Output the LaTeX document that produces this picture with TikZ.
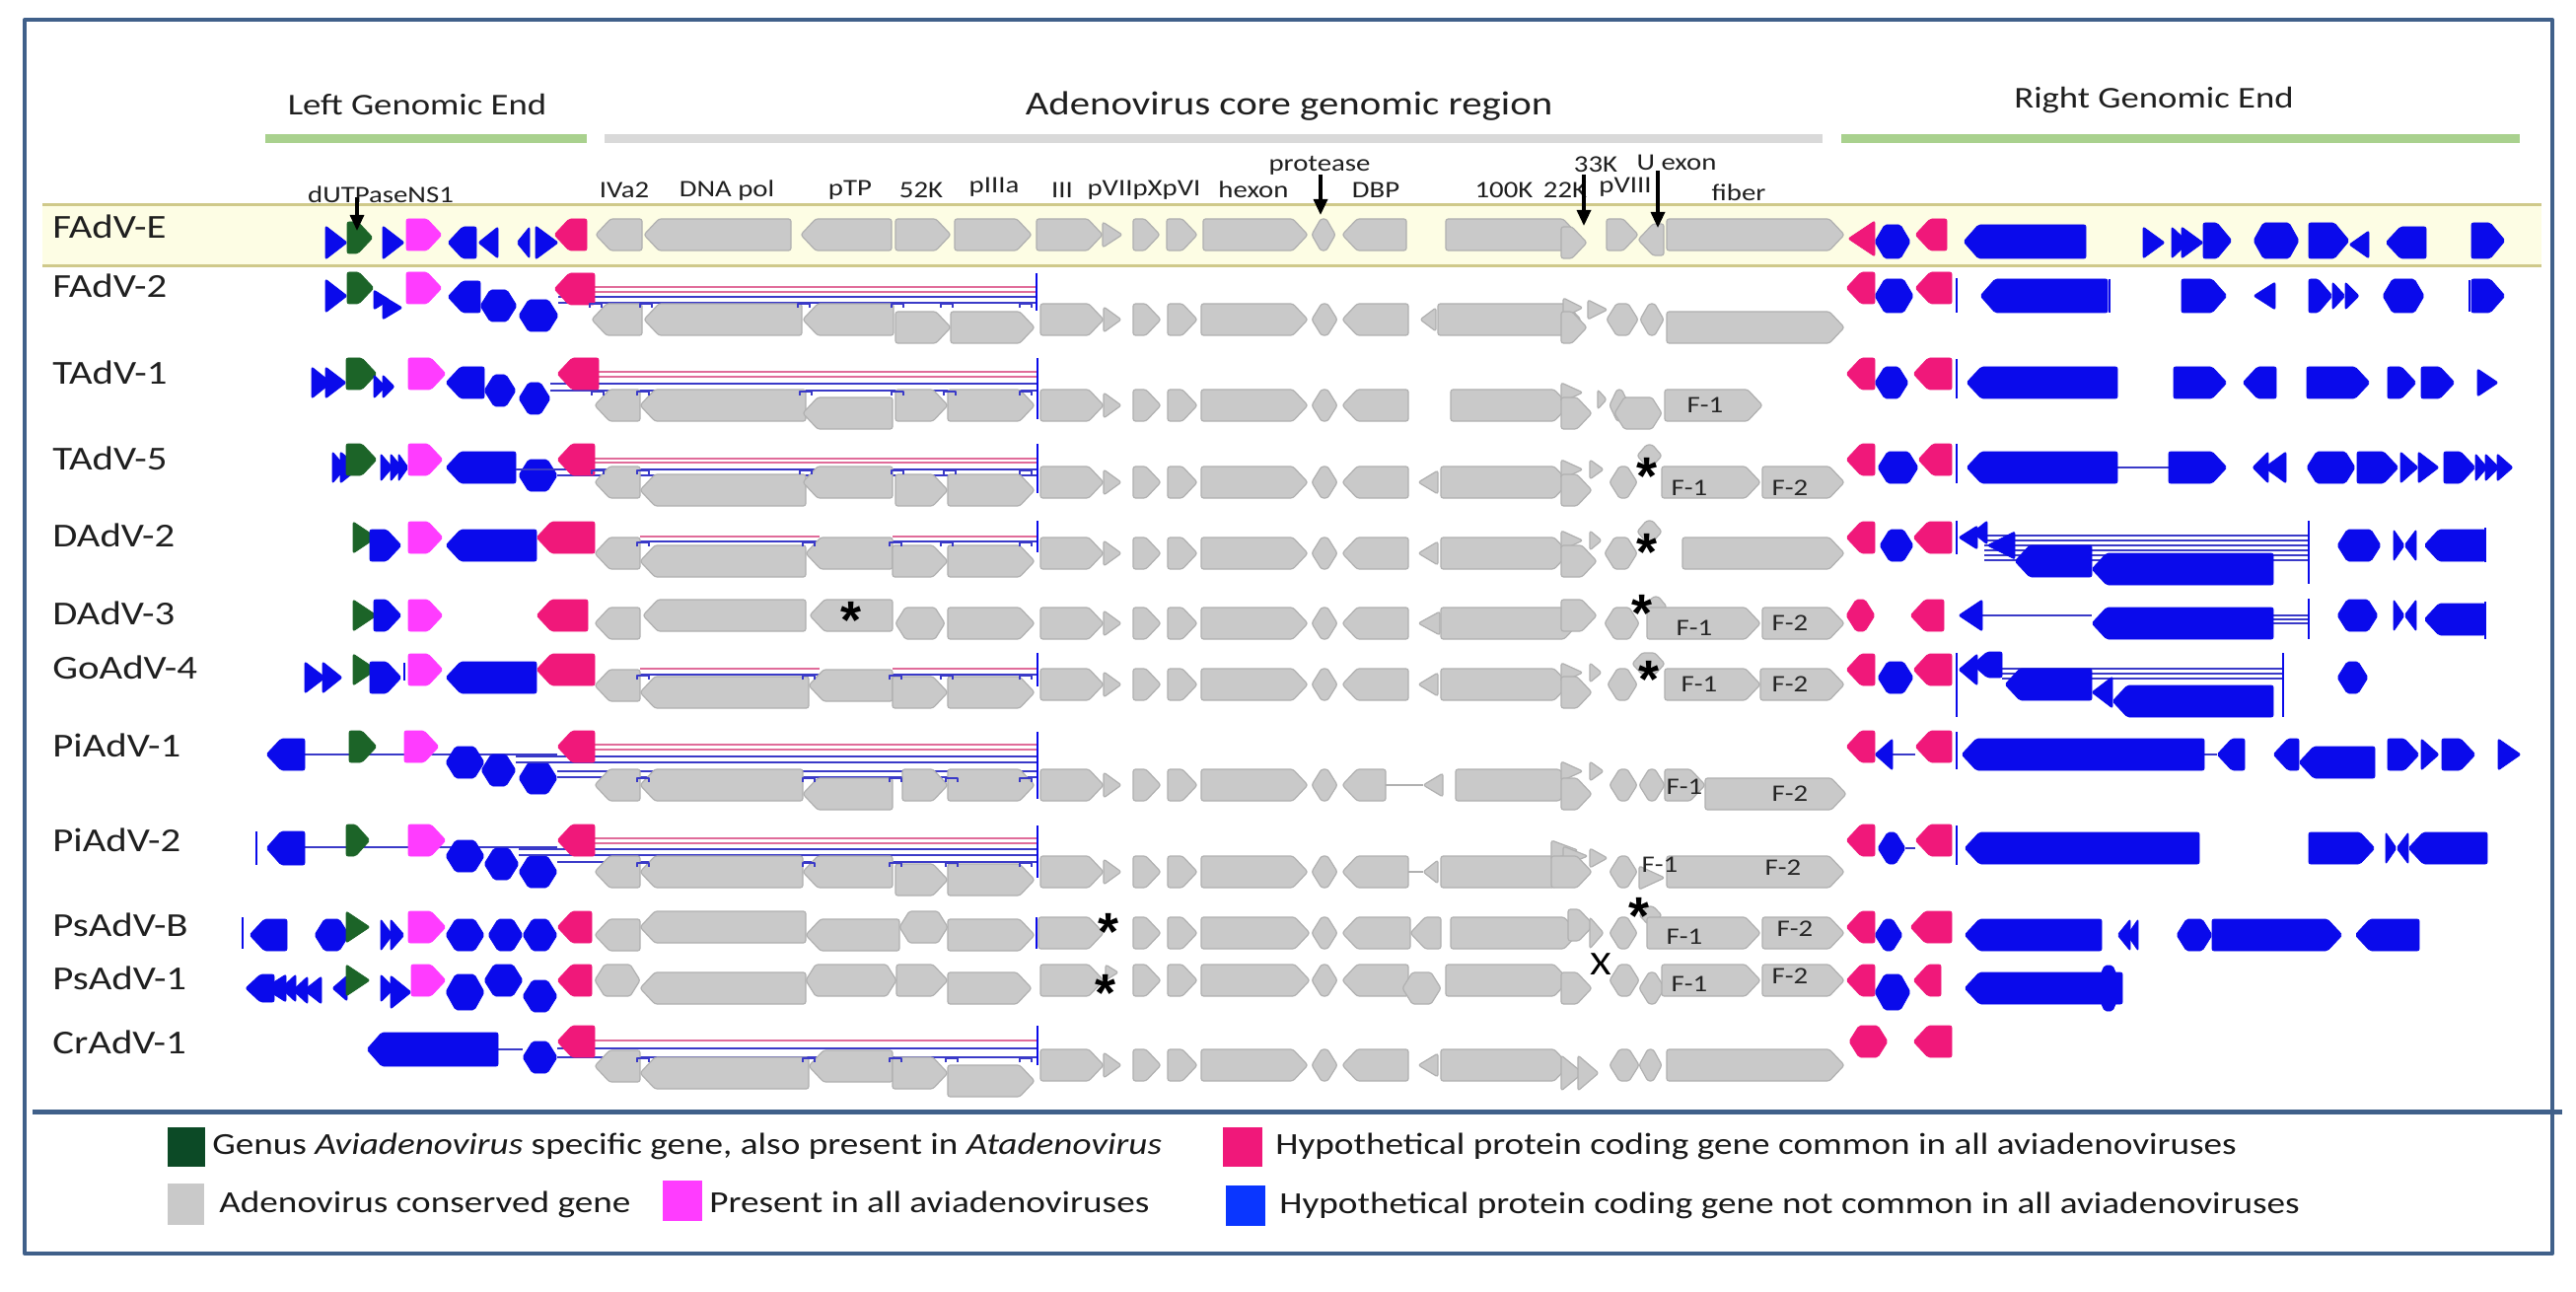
\documentclass[tikz,border=0pt]{standalone}
\usepackage{fontspec}
\setmainfont{Carlito}[FakeStretch=1.2]
\newfontfamily\astfont{Liberation Sans}
\usetikzlibrary{arrows.meta}
\definecolor{gfill}{HTML}{C9C9C9}
\definecolor{gline}{HTML}{B0B0B0}
\definecolor{bluec}{HTML}{0A0AEB}
\definecolor{pinkc}{HTML}{F0187A}
\definecolor{magc}{HTML}{FF3CFF}
\definecolor{greenc}{HTML}{1C6428}
\definecolor{legg}{HTML}{0C4A26}
\definecolor{legb}{HTML}{0A36FF}
\definecolor{framec}{HTML}{40608A}
\definecolor{bandc}{HTML}{FDFDE4}
\definecolor{bandl}{HTML}{CFC98A}
\definecolor{hgreen}{HTML}{A9D18E}
\definecolor{hgray}{HTML}{D9D9D9}
\definecolor{pline}{HTML}{E06C9A}
\definecolor{bline}{HTML}{3A3AC8}
\newcommand\GeneR[5][16]{\pgfmathsetmacro\gtip{min(15,0.6*(#3-#2))}\path[#5] (#2,#4-#1) -- (#3-\gtip,#4-#1) -- (#3,#4) -- (#3-\gtip,#4+#1) -- (#2,#4+#1) -- cycle;}
\newcommand\GeneL[5][16]{\pgfmathsetmacro\gtip{min(15,0.6*(#3-#2))}\path[#5] (#3,#4-#1) -- (#2+\gtip,#4-#1) -- (#2,#4) -- (#2+\gtip,#4+#1) -- (#3,#4+#1) -- cycle;}
\newcommand\GeneH[5][16]{\pgfmathsetmacro\gtip{min(10,0.38*(#3-#2))}\path[#5] (#2+\gtip,#4-#1) -- (#3-\gtip,#4-#1) -- (#3,#4) -- (#3-\gtip,#4+#1) -- (#2+\gtip,#4+#1) -- (#2,#4) -- cycle;}
\newcommand\TriR[5][16]{\path[#5] (#2,#4-#1) -- (#3,#4) -- (#2,#4+#1) -- cycle;}
\newcommand\TriL[5][16]{\path[#5] (#3,#4-#1) -- (#2,#4) -- (#3,#4+#1) -- cycle;}
\newcommand\Mark[2]{\draw[bline,line width=0.8pt] (#1-6,#2+4) -- (#1-6,#2) -- (#1+6,#2) -- (#1+6,#2+4);}
\newcommand\Tick[3]{\draw[bluec,line width=1.2pt] (#1,#2) -- (#1,#3);}
\newcommand\Star[3]{\node[astn] (#1) at (#2,#3+26) {*};}
\newcommand\CoreA[1]{\GeneR{1055}{1119}{#1}{gG}\TriR[13]{1119}{1137}{#1}{gG}\GeneR{1149}{1177}{#1}{gG}\GeneR{1184}{1214}{#1}{gG}\GeneR{1218}{1326}{#1}{gG}\GeneH{1330}{1356}{#1}{gG}\GeneL{1361}{1428}{#1}{gG}}
\begin{document}
\begin{tikzpicture}[x=0.5pt,y=-0.5pt,line join=round,
 gG/.style={fill=gfill,draw=gline,line width=0.6pt,rounded corners=1.2pt},
 gB/.style={fill=bluec,draw=bluec,line width=0.4pt,rounded corners=1pt},
 gP/.style={fill=pinkc,draw=pinkc,line width=0.4pt,rounded corners=1pt},
 gM/.style={fill=magc,draw=magc,line width=0.4pt,rounded corners=1pt},
 gD/.style={fill=greenc,draw=greenc,line width=0.4pt,rounded corners=1pt},
 pl/.style={draw=pline,line width=0.9pt},
 bln/.style={draw=bline,line width=0.9pt},
 rowlab/.style={anchor=west,inner sep=0,text=black!88,font=\fontsize{17}{20}\selectfont},
 glab/.style={inner sep=0,text=black!88,font=\fontsize{12}{14}\selectfont},
 flab/.style={inner sep=0,text=black!85,font=\fontsize{12}{14}\selectfont},
 hd/.style={inner sep=0,text=black!88,font=\fontsize{15.3}{18}\selectfont},
 leg/.style={anchor=west,inner sep=0,text=black!90,font=\fontsize{15.5}{18}\selectfont},
 astn/.style={anchor=base,inner sep=0,font=\astfont\bfseries\fontsize{27}{27}\selectfont},
 arr/.style={-{Triangle[length=8pt,width=7pt]},line width=1.6pt,black}]
\useasboundingbox (0,0) rectangle (2612,1310);
\fill[white] (0,0) rectangle (2612,1310);
% frame
\draw[framec,line width=2pt] (25,20) rectangle (2588,1271);
\draw[framec,line width=2.5pt] (33,1127) -- (2598,1127);
% band
\fill[bandc] (43,208) rectangle (2577,270);
\draw[bandl,line width=1.5pt] (43,208) -- (2577,208) (43,270) -- (2577,270);
% headings
\node[hd] (hL) at (423,106) {Left Genomic End};
\node[hd,font=\fontsize{17}{20}\selectfont] (hC) at (1307,108) {Adenovirus core genomic region};
\node[hd] (hR) at (2184,102) {Right Genomic End};
\draw[hgreen,line width=4.5pt] (269,141) -- (595,141);
\draw[hgray,line width=4.5pt] (613,141) -- (1848,141);
\draw[hgreen,line width=4.5pt] (1867,141) -- (2555,141);
% gene labels
\node[glab] (tD) at (386,197) {dUTPaseNS1};
\node[glab] (t1) at (633,193) {IVa2};
\node[glab] (t2) at (737,193) {DNA pol};
\node[glab] (t3) at (862,193) {pTP};
\node[glab] (t4) at (934,193) {52K};
\node[glab] (t5) at (1008,190) {pIIIa};
\node[glab] (t6) at (1077,193) {III};
\node[glab] (t7) at (1160,193) {pVIIpXpVI};
\node[glab] (t8) at (1271,192) {hexon};
\node[glab] (t9) at (1338,168) {protease};
\node[glab] (t10) at (1395,193) {DBP};
\node[glab] (t11) at (1525,193) {100K};
\node[glab] (t12) at (1587,193) {22K};
\node[glab] (t13) at (1618,167) {33K};
\node[glab] (t14) at (1648,190) {pVIII};
\node[glab] (t15) at (1700,165) {U exon};
\node[glab] (t16) at (1763,195) {fiber};
% row labels
\node[rowlab] (r1) at (53,230) {FAdV-E};
\node[rowlab] (r2) at (53,290) {FAdV-2};
\node[rowlab] (r3) at (53,378) {TAdV-1};
\node[rowlab] (r4) at (53,465) {TAdV-5};
\node[rowlab] (r5) at (53,543) {DAdV-2};
\node[rowlab] (r6) at (53,622) {DAdV-3};
\node[rowlab] (r7) at (53,677) {GoAdV-4};
\node[rowlab] (r8) at (53,756) {PiAdV-1};
\node[rowlab] (r9) at (53,852) {PiAdV-2};
\node[rowlab] (r10) at (53,938) {PsAdV-B};
\node[rowlab] (r11) at (53,992) {PsAdV-1};
\node[rowlab] (r12) at (53,1057) {CrAdV-1};
% ===== FAdV-E
\TriR[17]{330}{352}{246}{gB}\GeneR{352}{378}{241}{gD}\TriR[17]{388}{410}{246}{gB}\GeneR{412}{448}{238}{gM}
\GeneL{454}{483}{246}{gB}\TriL{485}{505}{246}{gB}\TriL{524}{537}{246}{gB}\TriR[17]{543}{566}{246}{gB}\GeneL{562}{595}{238}{gP}
\GeneL{604}{651}{238}{gG}\GeneL{653}{802}{238}{gG}\GeneL{812}{904}{238}{gG}\GeneR{908}{964}{238}{gG}\GeneR{968}{1046}{238}{gG}
\GeneR{1051}{1118}{238}{gG}\TriR[13]{1118}{1138}{238}{gG}\GeneR{1149}{1176}{238}{gG}\GeneR{1183}{1214}{238}{gG}\GeneR{1220}{1326}{238}{gG}
\GeneH{1330}{1354}{238}{gG}\GeneL{1361}{1426}{238}{gG}\GeneR{1466}{1600}{238}{gG}\GeneR{1583}{1609}{246}{gG}\GeneR{1629}{1661}{238}{gG}\GeneL{1661}{1687}{243}{gG}\GeneR{1690}{1870}{238}{gG}
\TriL[18]{1874}{1901}{242}{gP}\GeneH[17]{1901}{1937}{245}{gB}\GeneL{1942}{1974}{238}{gP}\GeneL[17]{1991}{2115}{245}{gB}
\TriR{2173}{2195}{246}{gB}\TriR{2202}{2219}{246}{gB}\TriR{2212}{2234}{246}{gB}\GeneR[18]{2234}{2263}{244}{gB}\GeneH[18]{2285}{2331}{244}{gB}
\GeneR[18]{2341}{2382}{244}{gB}\TriL[14]{2382}{2402}{248}{gB}\GeneL{2419}{2460}{246}{gB}\GeneR[18]{2506}{2540}{244}{gB}
\coordinate (aD1) at (362,200); \coordinate (aD2) at (362,234);
\coordinate (aP1) at (1339,177); \coordinate (aP2) at (1339,218);
\coordinate (aK1) at (1606,177); \coordinate (aK2) at (1606,229);
\coordinate (aU1) at (1681,173); \coordinate (aU2) at (1681,231);
\draw[arr] (aD1) -- (aD2); \draw[arr] (aP1) -- (aP2); \draw[arr] (aK1) -- (aK2); \draw[arr] (aU1) -- (aU2);
% ===== FAdV-2
\TriR[17]{330}{352}{300}{gB}\GeneR{352}{379}{292}{gD}\TriR[10]{379}{395}{304}{gB}\TriR[12]{388}{408}{312}{gB}\GeneR{412}{448}{292}{gM}
\GeneL{454}{487}{301}{gB}\GeneH{487}{524}{310}{gB}\GeneH{526}{566}{320}{gB}
\draw[pl] (600,291) -- (1051,291) (600,296) -- (1051,296);
\draw[bln] (566,301) -- (1051,301) (566,307) -- (1051,307);
\GeneL{562}{603}{293}{gP}
\GeneL{600}{651}{324}{gG}\GeneL{653}{813}{324}{gG}\GeneL{814}{906}{324}{gG}\GeneR{908}{964}{332}{gG}\GeneR{964}{1049}{332}{gG}
\CoreA{324}\TriL[12]{1440}{1456}{324}{gG}\GeneR{1458}{1603}{324}{gG}\TriR[10]{1585}{1605}{312}{gG}\TriR[10]{1610}{1630}{314}{gG}\GeneR{1583}{1609}{332}{gG}
\GeneH{1629}{1661}{324}{gG}\GeneH{1663}{1687}{324}{gG}\GeneR{1690}{1870}{332}{gG}
\Mark{604}{308}\Mark{655}{308}\Mark{815}{308}\Mark{910}{308}\Mark{960}{308}\Mark{1040}{308}\Tick{1051}{277}{315}
\GeneL{1872}{1901}{292}{gP}\GeneH[17]{1901}{1940}{300}{gB}\GeneL{1942}{1979}{292}{gP}\Tick{1984}{282}{317}\GeneL[17]{2008}{2137}{300}{gB}\Tick{2139}{283}{317}
\GeneR[17]{2212}{2258}{300}{gB}\TriL[14]{2285}{2307}{300}{gB}\GeneR[17]{2341}{2365}{300}{gB}\TriR[14]{2365}{2378}{300}{gB}\TriR[14]{2378}{2392}{300}{gB}
\GeneH[17]{2416}{2458}{300}{gB}\Tick{2504}{284}{316}\GeneR[17]{2506}{2540}{300}{gB}
% ===== TAdV-1
\TriR{316}{336}{388}{gB}\TriR{330}{351}{388}{gB}\GeneR{351}{382}{379}{gD}\TriR[12]{379}{391}{392}{gB}\TriR[12]{388}{400}{392}{gB}\GeneR{414}{452}{379}{gM}
\GeneL{452}{491}{388}{gB}\GeneH{491}{523}{396}{gB}\GeneH{526}{558}{404}{gB}
\draw[pl] (603,377) -- (1052,377) (603,382) -- (1052,382);
\draw[bln] (558,389) -- (1052,389) (558,396) -- (1052,396);
\GeneL{565}{607}{379}{gP}
\GeneL{603}{649}{411}{gG}\GeneL{649}{817}{411}{gG}\GeneL{814}{905}{419}{gG}\GeneR{908}{961}{411}{gG}\GeneR{961}{1049}{411}{gG}
\CoreA{411}\GeneR{1471}{1591}{411}{gG}\TriR[10]{1583}{1605}{398}{gG}\GeneR{1583}{1614}{419}{gG}\TriR[10]{1620}{1629}{405}{gG}\GeneH{1632}{1652}{411}{gG}\GeneH{1637}{1685}{419}{gG}\GeneR{1688}{1787}{411}{gG}
\node[flab] (f11) at (1729,411) {F-1};
\Mark{606}{397}\Mark{652}{397}\Mark{817}{397}\Mark{910}{397}\Mark{963}{397}\Mark{1040}{397}\Tick{1052}{363}{425}
\GeneL{1872}{1901}{379}{gP}\GeneH{1901}{1935}{388}{gB}\GeneL{1940}{1979}{379}{gP}\Tick{1984}{364}{404}\GeneL{1994}{2147}{388}{gB}
\GeneR{2204}{2258}{388}{gB}\GeneL{2274}{2308}{388}{gB}\GeneR{2339}{2403}{388}{gB}\GeneR{2421}{2450}{388}{gB}\GeneR{2455}{2489}{388}{gB}\TriR[14]{2512}{2533}{388}{gB}
% ===== TAdV-5
\TriR{337}{351}{474}{gB}\TriR{345}{365}{474}{gB}\GeneR{351}{382}{466}{gD}\TriR[14]{386}{398}{474}{gB}\TriR[14]{396}{408}{474}{gB}\TriR[14]{404}{414}{474}{gB}
\GeneR{414}{449}{466}{gM}\GeneL{452}{523}{474}{gB}\GeneH{526}{565}{482}{gB}
\draw[pl] (603,465) -- (1052,465) (603,469) -- (1052,469);
\draw[bln] (523,476) -- (1052,476) (565,482) -- (1052,482);
\GeneL{565}{603}{466}{gP}
\GeneL{603}{649}{489}{gG}\GeneL{649}{817}{497}{gG}\GeneL{814}{905}{489}{gG}\GeneR{908}{961}{497}{gG}\GeneR{961}{1049}{497}{gG}
\CoreA{489}\TriL[12]{1438}{1458}{489}{gG}\GeneR{1461}{1591}{489}{gG}\TriR[10]{1583}{1605}{476}{gG}\TriR[10]{1612}{1626}{476}{gG}\GeneR{1583}{1614}{497}{gG}
\GeneH{1632}{1660}{489}{gG}\GeneH[11]{1660}{1685}{462}{gG}\GeneR{1685}{1785}{489}{gG}\GeneR{1787}{1870}{489}{gG}
\Star{s1}{1670}{476}
\node[flab] (f21) at (1713,495) {F-1};\node[flab] (f22) at (1815,495) {F-2};
\Mark{606}{477}\Mark{652}{477}\Mark{817}{477}\Mark{910}{477}\Mark{963}{477}\Mark{1040}{477}\Tick{1052}{450}{500}
\GeneL{1872}{1901}{466}{gP}\GeneH{1904}{1945}{474}{gB}\GeneL{1945}{1979}{466}{gP}\Tick{1984}{450}{490}
\draw[bln,line width=1.2pt] (2147,474) -- (2199,474);
\GeneL{1994}{2147}{474}{gB}\GeneR{2199}{2258}{474}{gB}\TriL{2284}{2300}{474}{gB}\TriL{2296}{2318}{474}{gB}\GeneH{2339}{2388}{474}{gB}\GeneR{2390}{2432}{474}{gB}
\TriR{2434}{2452}{474}{gB}\TriR{2452}{2473}{474}{gB}\GeneR{2478}{2510}{474}{gB}\TriR[14]{2510}{2522}{474}{gB}\TriR[14]{2520}{2534}{474}{gB}\TriR[14]{2532}{2548}{474}{gB}
% ===== DAdV-2
\TriR{358}{382}{545}{gD}\GeneR{375}{407}{553}{gB}\GeneR{414}{449}{545}{gM}\GeneL{452}{544}{553}{gB}
\draw[pl] (649,544) -- (831,544) (905,544) -- (1052,544);
\draw[bln] (649,549) -- (831,549) (905,549) -- (1052,549);
\GeneL{544}{603}{545}{gP}
\GeneL{603}{649}{561}{gG}\GeneL{649}{817}{569}{gG}\GeneL{817}{905}{561}{gG}\GeneR{905}{961}{569}{gG}\GeneR{961}{1049}{569}{gG}
\CoreA{561}\TriL[12]{1438}{1458}{561}{gG}\GeneR{1461}{1591}{561}{gG}\TriR[10]{1583}{1605}{548}{gG}\TriR[10]{1612}{1624}{548}{gG}\GeneR{1583}{1619}{569}{gG}
\GeneH{1627}{1660}{561}{gG}\GeneH[11]{1660}{1685}{539}{gG}\GeneR{1706}{1870}{561}{gG}
\Star{s2}{1670}{552}
\Mark{652}{550}\Mark{820}{550}\Mark{908}{550}\Mark{960}{550}\Mark{1040}{550}\Tick{1052}{528}{560}
\GeneL{1872}{1901}{545}{gP}\GeneH{1906}{1940}{553}{gB}\GeneL{1940}{1979}{545}{gP}\Tick{1984}{528}{562}
\draw[bln,line width=0.6pt] (2012,543) -- (2341,543) (2012,548) -- (2341,548) (2012,553) -- (2341,553) (2012,558) -- (2341,558) (2012,563) -- (2341,563) (2012,568) -- (2341,568);
\TriL[12]{1986}{2005}{545}{gB}\TriL[12]{2000}{2015}{540}{gB}\TriL[14]{2015}{2043}{553}{gB}\GeneL{2043}{2121}{569}{gB}\GeneL{2121}{2305}{577}{gB}\Tick{2341}{528}{592}
\GeneH{2370}{2414}{553}{gB}\TriR{2427}{2438}{553}{gB}\TriL{2438}{2450}{553}{gB}\GeneL{2458}{2520}{553}{gB}\Tick{2520}{535}{570}
% ===== DAdV-3
\TriR{358}{382}{624}{gD}\GeneR{379}{407}{624}{gB}\GeneR{414}{449}{624}{gM}\GeneL{544}{596}{624}{gP}
\GeneL{603}{649}{632}{gG}\GeneL{652}{817}{624}{gG}\GeneL{821}{905}{624}{gG}\GeneH{908}{958}{632}{gG}\GeneR{961}{1049}{632}{gG}
\Star{s3}{863}{621}
\CoreA{632}\TriL[12]{1438}{1460}{632}{gG}\GeneR{1461}{1601}{632}{gG}\GeneR{1583}{1619}{624}{gG}\GeneH{1627}{1662}{632}{gG}\GeneH[10]{1668}{1690}{615}{gG}
\GeneR{1670}{1785}{632}{gG}\GeneR{1787}{1870}{632}{gG}
\Star{s4}{1665}{614}
\node[flab] (f31) at (1718,637) {F-1};\node[flab] (f32) at (1815,632) {F-2};
\GeneH{1872}{1901}{624}{gP}\GeneL{1937}{1971}{624}{gP}
\draw[bln,line width=1.2pt] (2010,624) -- (2121,624);
\draw[bln,line width=0.6pt] (2305,624) -- (2341,624) (2305,628) -- (2341,628) (2305,632) -- (2341,632);
\TriL{1986}{2010}{624}{gB}\GeneL{2121}{2305}{632}{gB}\Tick{2341}{607}{648}
\GeneH{2370}{2411}{624}{gB}\TriR{2427}{2438}{624}{gB}\TriL{2438}{2450}{624}{gB}\GeneL{2458}{2520}{628}{gB}\Tick{2520}{610}{648}
% ===== GoAdV-4
\TriR{309}{330}{687}{gB}\TriR{327}{347}{687}{gB}\TriR{358}{382}{679}{gD}\GeneR{375}{407}{687}{gB}\Tick{410}{672}{690}\GeneR{414}{449}{679}{gM}\GeneL{452}{544}{687}{gB}
\draw[pl] (649,678) -- (831,678) (905,678) -- (1052,678);
\draw[bln] (649,684) -- (831,684) (905,684) -- (1052,684);
\GeneL{544}{603}{679}{gP}
\GeneL{603}{649}{695}{gG}\GeneL{649}{820}{702}{gG}\GeneL{820}{905}{695}{gG}\GeneR{905}{961}{702}{gG}\GeneR{961}{1049}{702}{gG}
\CoreA{694}\TriL[12]{1438}{1458}{694}{gG}\GeneR{1461}{1591}{694}{gG}\TriR[10]{1583}{1605}{682}{gG}\TriR[10]{1612}{1624}{682}{gG}\GeneR{1583}{1614}{702}{gG}
\GeneH{1630}{1660}{694}{gG}\GeneH[11]{1655}{1688}{673}{gG}\GeneR{1688}{1785}{694}{gG}\GeneR{1785}{1870}{694}{gG}
\Star{s5}{1672}{681}
\node[flab] (f41) at (1723,694) {F-1};\node[flab] (f42) at (1815,694) {F-2};
\Mark{652}{685}\Mark{820}{685}\Mark{908}{685}\Mark{960}{685}\Mark{1040}{685}\Tick{1052}{662}{696}
\GeneL{1872}{1901}{679}{gP}\GeneH{1904}{1940}{687}{gB}\GeneL{1940}{1979}{679}{gP}\Tick{1984}{662}{727}
\draw[bln,line width=0.6pt] (2030,678) -- (2315,678) (2030,683) -- (2315,683) (2030,688) -- (2315,688);
\TriL{1986}{2005}{679}{gB}\GeneL[13]{2000}{2030}{674}{gB}\GeneL{2033}{2121}{694}{gB}\TriL{2121}{2142}{702}{gB}\GeneL{2142}{2305}{711}{gB}\Tick{2315}{662}{727}
\GeneH{2370}{2401}{687}{gB}
% ===== PiAdV-1
\draw[bln,line width=1.2pt] (309,765) -- (565,765);
\GeneL{270}{309}{765}{gB}\GeneR{354}{382}{757}{gD}\GeneR{410}{445}{757}{gM}\GeneH{452}{491}{773}{gB}\GeneH{488}{523}{781}{gB}\GeneH{526}{565}{789}{gB}
\draw[pl] (603,755) -- (1052,755) (603,760) -- (1052,760);
\draw[bln] (523,767) -- (1052,767) (523,773) -- (1052,773) (565,782) -- (1052,782) (565,788) -- (1052,788);
\GeneL{565}{603}{757}{gP}
\GeneL{603}{649}{796}{gG}\GeneL{649}{814}{796}{gG}\GeneL{814}{905}{805}{gG}\GeneR{915}{961}{796}{gG}\GeneR{961}{1049}{796}{gG}
\GeneR{1055}{1119}{796}{gG}\TriR[13]{1119}{1137}{796}{gG}\GeneR{1149}{1177}{796}{gG}\GeneR{1184}{1214}{796}{gG}\GeneR{1218}{1326}{796}{gG}\GeneH{1330}{1356}{796}{gG}\GeneL{1361}{1405}{796}{gG}
\draw[gline,line width=1pt] (1405,796) -- (1443,796);
\TriL[12]{1443}{1463}{796}{gG}\GeneR{1476}{1596}{796}{gG}\TriR[10]{1583}{1605}{782}{gG}\TriR[10]{1612}{1626}{782}{gG}\GeneR{1583}{1614}{805}{gG}
\GeneH{1632}{1660}{796}{gG}\GeneH{1662}{1688}{796}{gG}\GeneR{1688}{1729}{796}{gG}\GeneR{1729}{1872}{805}{gG}
\node[flab] (f51) at (1708,798) {F-1};\node[flab] (f52) at (1815,805) {F-2};
\Mark{652}{789}\Mark{820}{789}\Mark{908}{789}\Mark{965}{789}\Mark{1040}{789}\Tick{1052}{742}{810}
\draw[bln,line width=1.2pt] (1919,765) -- (1942,765) (2235,765) -- (2248,765);
\GeneL{1872}{1901}{757}{gP}\TriL{1901}{1919}{765}{gB}\GeneL{1942}{1979}{757}{gP}\Tick{1984}{742}{780}\GeneL{1989}{2235}{765}{gB}
\GeneL{2248}{2276}{765}{gB}\GeneL{2305}{2331}{765}{gB}\GeneL{2331}{2408}{773}{gB}\GeneR{2421}{2453}{765}{gB}\TriR{2455}{2473}{765}{gB}\GeneR{2476}{2510}{765}{gB}\TriR{2533}{2556}{765}{gB}
% ===== PiAdV-2
\draw[bln,line width=1.2pt] (309,859) -- (565,859);
\Tick{260}{843}{877}\GeneL[17]{270}{309}{860}{gB}\GeneR{351}{375}{852}{gD}\GeneR{414}{452}{852}{gM}\GeneH{452}{491}{868}{gB}\GeneH{491}{526}{876}{gB}\GeneH{526}{565}{884}{gB}
\draw[pl] (603,850) -- (1052,850) (603,855) -- (1052,855);
\draw[bln] (526,861) -- (1052,861) (526,867) -- (1052,867) (565,874) -- (1052,874);
\GeneL{565}{603}{852}{gP}
\GeneL{603}{649}{884}{gG}\GeneL{649}{814}{884}{gG}\GeneL{814}{905}{884}{gG}\GeneR{908}{961}{892}{gG}\GeneR{961}{1049}{892}{gG}
\CoreA{884}\draw[gline,line width=1pt] (1428,884) -- (1443,884);
\TriL[12]{1443}{1458}{884}{gG}\GeneR{1461}{1591}{884}{gG}\TriR[10]{1573}{1600}{862}{gG}\TriR[10]{1585}{1610}{868}{gG}\TriR[10]{1612}{1630}{870}{gG}\GeneR{1573}{1614}{884}{gG}
\GeneH{1632}{1660}{884}{gG}\TriR[12]{1662}{1688}{890}{gG}\GeneR{1690}{1870}{884}{gG}
\node[flab] (f61) at (1683,877) {F-1};\node[flab] (f62) at (1808,880) {F-2};
\Mark{652}{875}\Mark{820}{875}\Mark{908}{875}\Mark{965}{875}\Mark{1040}{875}\Tick{1052}{837}{890}
\draw[bln,line width=1.2pt] (1932,860) -- (1942,860);
\GeneL{1872}{1901}{852}{gP}\GeneH{1904}{1932}{860}{gB}\GeneL{1942}{1979}{852}{gP}\Tick{1984}{837}{877}\GeneL{1992}{2230}{860}{gB}
\GeneR{2341}{2408}{860}{gB}\TriR{2419}{2430}{860}{gB}\TriL{2430}{2442}{860}{gB}\GeneL{2442}{2522}{860}{gB}
% ===== PsAdV-B
\Tick{246}{930}{962}\GeneL{253}{291}{948}{gB}\GeneH{319}{354}{948}{gB}\TriR{351}{375}{940}{gD}\TriR{386}{398}{948}{gB}\TriR{396}{410}{948}{gB}
\GeneR{414}{452}{940}{gM}\GeneH{452}{491}{948}{gB}\GeneH{495}{530}{948}{gB}\GeneH{530}{565}{948}{gB}\GeneL{565}{600}{940}{gP}
\GeneL{603}{649}{948}{gG}\GeneL{649}{817}{940}{gG}\GeneL{817}{912}{948}{gG}\GeneH{912}{961}{940}{gG}\GeneR{961}{1049}{948}{gG}
\Tick{1051}{930}{962}\GeneR{1053}{1119}{946}{gG}\GeneR{1149}{1177}{946}{gG}\GeneR{1184}{1214}{946}{gG}\GeneR{1218}{1328}{946}{gG}\GeneH{1330}{1356}{946}{gG}
\GeneL{1361}{1430}{946}{gG}\GeneL{1430}{1461}{946}{gG}\GeneR{1471}{1601}{946}{gG}\GeneR{1590}{1616}{938}{gG}\TriR{1612}{1626}{946}{gG}\GeneH{1632}{1660}{946}{gG}\GeneH[9]{1662}{1685}{928}{gG}
\GeneR{1670}{1785}{946}{gG}\GeneR{1787}{1870}{946}{gG}
\Star{s6}{1124}{937}\Star{s7}{1662}{921}
\node[flab] (f71) at (1708,950) {F-1};\node[flab] (f72) at (1820,942) {F-2};
\GeneL{1872}{1901}{940}{gP}\GeneH{1901}{1929}{948}{gB}\GeneL{1937}{1979}{940}{gP}\GeneL{1992}{2131}{948}{gB}\TriL{2147}{2160}{948}{gB}\TriL{2157}{2168}{948}{gB}
\GeneH{2207}{2243}{948}{gB}\GeneR{2243}{2375}{948}{gB}\GeneL{2388}{2453}{948}{gB}
% ===== PsAdV-1
\GeneL[14]{249}{278}{1002}{gB}\TriL[14]{268}{290}{1002}{gB}\TriL[14]{285}{300}{1002}{gB}\TriL[14]{297}{312}{1004}{gB}\TriL[14]{308}{326}{1004}{gB}\TriL[13]{337}{352}{1002}{gB}
\TriR{351}{375}{994}{gD}\TriR[14]{386}{400}{1002}{gB}\TriR[17]{396}{417}{1006}{gB}\GeneR{417}{452}{994}{gM}\GeneH[18]{452}{491}{1006}{gB}\GeneH{491}{530}{994}{gB}\GeneH{530}{565}{1010}{gB}\GeneL{565}{600}{994}{gP}
\GeneH{603}{649}{994}{gG}\GeneL{649}{817}{1002}{gG}\GeneH{817}{909}{994}{gG}\GeneR{909}{961}{994}{gG}\GeneR{961}{1046}{1002}{gG}
\GeneR{1055}{1119}{994}{gG}\TriR[8]{1121}{1134}{986}{gG}\GeneR{1149}{1177}{994}{gG}\GeneR{1184}{1214}{994}{gG}\GeneR{1218}{1328}{994}{gG}\GeneH{1330}{1356}{994}{gG}
\GeneL{1361}{1428}{994}{gG}\GeneH{1422}{1461}{1002}{gG}\GeneR{1466}{1591}{994}{gG}\GeneR{1583}{1614}{1002}{gG}\GeneH{1632}{1662}{994}{gG}\GeneH{1662}{1688}{1002}{gG}
\GeneR{1685}{1785}{994}{gG}\GeneR{1787}{1870}{994}{gG}
\Star{s8}{1121}{999}
\node[inner sep=0,font=\fontsize{17}{20}\selectfont] (xm) at (1623,978) {X};
\node[flab] (f81) at (1713,998) {F-1};\node[flab] (f82) at (1815,990) {F-2};
\GeneL{1872}{1901}{994}{gP}\GeneH[18]{1901}{1937}{1006}{gB}\GeneL{1940}{1968}{994}{gP}\GeneL{1992}{2152}{1002}{gB}\GeneH[23]{2124}{2152}{1002}{gB}
% ===== CrAdV-1
\draw[bln,line width=1.2pt] (505,1064) -- (530,1064);
\GeneL[17]{372}{505}{1064}{gB}\GeneH{530}{565}{1072}{gB}
\draw[pl] (603,1055) -- (1052,1055);
\draw[bln] (565,1063) -- (1052,1063) (565,1072) -- (1052,1072);
\GeneL{565}{603}{1056}{gP}
\GeneL{603}{649}{1081}{gG}\GeneL{649}{820}{1088}{gG}\GeneL{820}{905}{1081}{gG}\GeneR{905}{961}{1088}{gG}\GeneR{961}{1049}{1096}{gG}
\CoreA{1080}\TriL[12]{1438}{1458}{1080}{gG}\GeneR{1461}{1591}{1080}{gG}\TriR[18]{1583}{1605}{1088}{gG}\TriR[18]{1600}{1621}{1088}{gG}\GeneH{1632}{1662}{1080}{gG}\GeneH{1662}{1685}{1080}{gG}\GeneR{1690}{1870}{1080}{gG}
\Mark{652}{1073}\Mark{820}{1073}\Mark{908}{1073}\Mark{965}{1073}\Mark{1040}{1073}\Tick{1052}{1040}{1080}
\GeneH{1875}{1914}{1056}{gP}\GeneL{1940}{1979}{1056}{gP}
% ===== legend
\fill[legg] (170,1143) rectangle (208,1183);
\node[leg] (lg1) at (215,1162) {Genus \textit{Aviadenovirus} specific gene, also present in \textit{Atadenovirus}};
\fill[pinkc] (1240,1143) rectangle (1280,1183);
\node[leg] (lg2) at (1293,1162) {Hypothetical protein coding gene common in all aviadenoviruses};
\fill[gfill] (170,1200) rectangle (207,1242);
\node[leg] (lg3) at (222,1221) {Adenovirus conserved gene};
\fill[magc] (672,1197) rectangle (712,1238);
\node[leg] (lg4) at (719,1219) {Present in all aviadenoviruses};
\fill[legb] (1243,1202) rectangle (1283,1243);
\node[leg] (lg5) at (1297,1222) {Hypothetical protein coding gene not common in all aviadenoviruses};
\end{tikzpicture}
\end{document}
